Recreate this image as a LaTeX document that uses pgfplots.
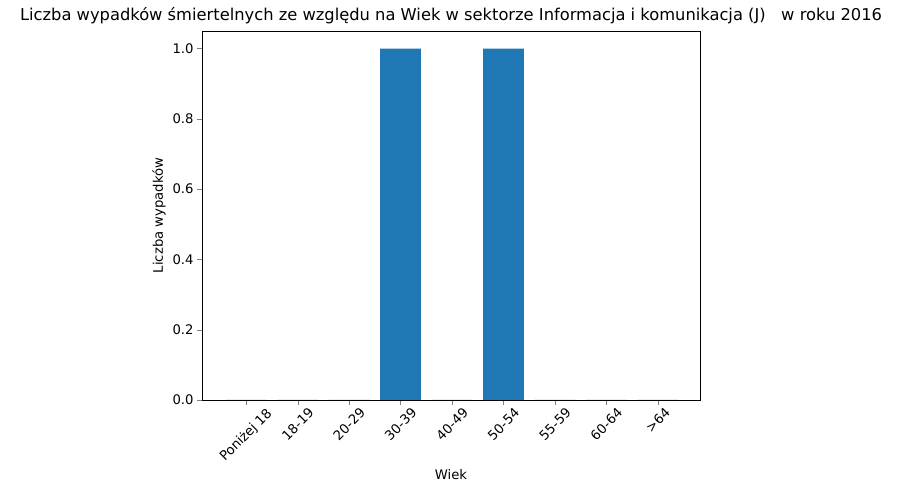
\documentclass[border=0pt]{standalone}
\usepackage{pgfplots}
\pgfplotsset{compat=1.18}
\usepackage{fontspec}
\setmainfont{DejaVu Sans}
\definecolor{mplblue}{HTML}{1F77B4}
\begin{document}
\begin{tikzpicture}
\path[use as bounding box] (-202pt,-100pt) rectangle (702pt,400pt);
\begin{axis}[
  scale only axis, width=498pt, height=369pt,
  xmin=-0.86, xmax=8.82, ymin=0, ymax=1.05,
  xtick={0,...,8},
  xticklabels={\rotatebox{45}{Poniżej 18},\rotatebox{45}{18-19},\rotatebox{45}{20-29},\rotatebox{45}{30-39},\rotatebox{45}{40-49},\rotatebox{45}{50-54},\rotatebox{45}{55-59},\rotatebox{45}{60-64},\rotatebox{45}{>64}},
  ytick={0,0.2,0.4,0.6,0.8,1.0},
  yticklabel style={/pgf/number format/.cd,fixed,fixed zerofill,precision=1},
  /pgf/number format/assume math mode=true,
  tick align=outside, major tick length=4.9pt,
  xtick pos=bottom, ytick pos=left,
  ticklabel style={font=\fontsize{13.2}{15}\selectfont},
  xticklabel style={anchor=north, inner sep=2pt},
  xlabel={Wiek}, ylabel={Liczba wypadków},
  label style={font=\fontsize{13.2}{15}\selectfont},
  title={Liczba wypadków śmiertelnych ze względu na Wiek w sektorze Informacja i komunikacja (J)\ \ \ w roku 2016},
  title style={font=\fontsize{16.3}{19}\selectfont, yshift=-2pt},
]
\addplot[ybar, bar width=40.8pt, fill=mplblue, draw=none] coordinates {(0,0) (1,0) (2,0) (3,1) (4,0) (5,1) (6,0) (7,0) (8,0)};
\end{axis}
\end{tikzpicture}
\end{document}
